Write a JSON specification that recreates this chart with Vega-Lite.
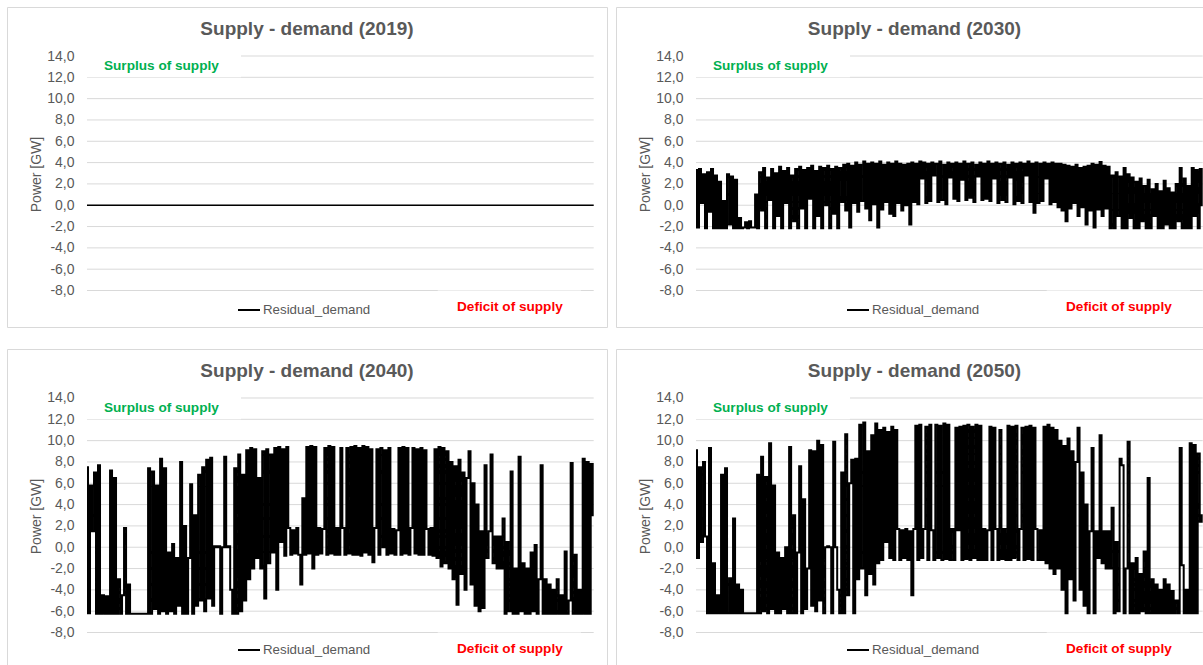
{
"$schema": "https://vega.github.io/schema/vega-lite/v6.json",
"background": "white",
"padding": {"left": 6, "top": 6, "right": 0, "bottom": 0},
"datasets": {
"grid": [{"g":-8},{"g":-6},{"g":-4},{"g":-2},{"g":0},{"g":2},{"g":4},{"g":6},{"g":8},{"g":10},{"g":12},{"g":14}],
"single": [{"n":1}],
"base": [{"h":0,"r2019":0},{"h":8760,"r2019":0}],
"res": [
{"h":0,"r2030":3.3,"r2040":7.5,"r2050":9.1},
{"h":35,"r2030":-2.1,"r2040":-6.2,"r2050":-1.0},
{"h":69,"r2030":3.4,"r2040":5.8,"r2050":7.5},
{"h":104,"r2030":0.2,"r2040":1.5,"r2050":0.5},
{"h":139,"r2030":2.9,"r2040":7.0,"r2050":8.0},
{"h":173,"r2030":-2.15,"r2040":-6.25,"r2050":1.0},
{"h":208,"r2030":3.1,"r2040":7.7,"r2050":-6.2},
{"h":242,"r2030":-0.6,"r2040":-6.25,"r2050":9.3},
{"h":277,"r2030":3.4,"r2040":-4.5,"r2050":-6.2},
{"h":312,"r2030":-2.15,"r2040":-6.25,"r2050":-1.5},
{"h":346,"r2030":2.8,"r2040":-4.6,"r2050":-6.2},
{"h":381,"r2030":-2.15,"r2040":-6.25,"r2050":-4.5},
{"h":416,"r2030":2.2,"r2040":7.2,"r2050":-6.2},
{"h":450,"r2030":-2.15,"r2040":-6.25,"r2050":6.8},
{"h":485,"r2030":0.4,"r2040":6.5,"r2050":-6.2},
{"h":519,"r2030":-2.15,"r2040":-6.25,"r2050":7.4},
{"h":554,"r2030":2.9,"r2040":-3.0,"r2050":-6.2},
{"h":589,"r2030":-1.8,"r2040":-6.25,"r2050":-2.9},
{"h":623,"r2030":2.7,"r2040":-4.5,"r2050":-6.2},
{"h":658,"r2030":-2.15,"r2040":1.8,"r2050":2.7},
{"h":693,"r2030":2.4,"r2040":-6.25,"r2050":-6.2},
{"h":727,"r2030":-2.15,"r2040":-3.5,"r2050":-3.5},
{"h":762,"r2030":-1.2,"r2040":-6.25,"r2050":-6.2},
{"h":796,"r2030":-2.15,"r2040":-6.25,"r2050":-4.0},
{"h":831,"r2030":-2.1,"r2040":-6.25,"r2050":-6.2},
{"h":866,"r2030":-1.6,"r2040":-6.25,"r2050":-6.2},
{"h":900,"r2030":-2.15,"r2040":-6.25,"r2050":-6.2},
{"h":935,"r2030":-1.5,"r2040":-6.25,"r2050":-6.2},
{"h":970,"r2030":-2.1,"r2040":-6.25,"r2050":-6.2},
{"h":1004,"r2030":-2.1,"r2040":-6.25,"r2050":-6.2},
{"h":1039,"r2030":1.0,"r2040":-6.25,"r2050":-6.2},
{"h":1073,"r2030":-2.15,"r2040":7.4,"r2050":6.8},
{"h":1108,"r2030":3.1,"r2040":-6.25,"r2050":-6.2},
{"h":1143,"r2030":-0.5,"r2040":7.1,"r2050":8.5},
{"h":1177,"r2030":3.5,"r2040":-5.8,"r2050":-6.0},
{"h":1212,"r2030":-2.15,"r2040":5.8,"r2050":6.6},
{"h":1247,"r2030":2.6,"r2040":-6.25,"r2050":-6.2},
{"h":1281,"r2030":0.5,"r2040":8.3,"r2050":9.75},
{"h":1316,"r2030":3.4,"r2040":-6.0,"r2050":-5.8},
{"h":1350,"r2030":-2.15,"r2040":7.4,"r2050":5.8},
{"h":1385,"r2030":3.0,"r2040":-6.25,"r2050":-6.2},
{"h":1420,"r2030":-1.0,"r2040":-0.5,"r2050":-0.5},
{"h":1454,"r2030":3.6,"r2040":-6.0,"r2050":-6.2},
{"h":1489,"r2030":-2.15,"r2040":0.3,"r2050":-1.0},
{"h":1524,"r2030":3.2,"r2040":-6.25,"r2050":-5.8},
{"h":1558,"r2030":0.2,"r2040":-1.0,"r2050":0.0},
{"h":1593,"r2030":3.5,"r2040":-5.5,"r2050":-6.2},
{"h":1627,"r2030":-2.15,"r2040":8.0,"r2050":9.4},
{"h":1662,"r2030":2.8,"r2040":-6.25,"r2050":-6.2},
{"h":1697,"r2030":-1.5,"r2040":2.0,"r2050":3.0},
{"h":1731,"r2030":3.4,"r2040":-6.25,"r2050":-6.2},
{"h":1766,"r2030":-2.15,"r2040":-1.0,"r2050":-0.5},
{"h":1801,"r2030":3.6,"r2040":5.9,"r2050":7.6},
{"h":1835,"r2030":-0.3,"r2040":-6.25,"r2050":-6.2},
{"h":1870,"r2030":3.3,"r2040":3.0,"r2050":4.5},
{"h":1904,"r2030":-2.15,"r2040":-5.5,"r2050":-5.8},
{"h":1939,"r2030":3.5,"r2040":6.8,"r2050":-2.0},
{"h":1974,"r2030":0.6,"r2040":-5.0,"r2050":9.1},
{"h":2008,"r2030":3.7,"r2040":7.5,"r2050":-5.5},
{"h":2043,"r2030":-2.15,"r2040":-6.0,"r2050":9.0},
{"h":2078,"r2030":3.2,"r2040":8.2,"r2050":-6.0},
{"h":2112,"r2030":-1.0,"r2040":-4.8,"r2050":10.0},
{"h":2147,"r2030":3.6,"r2040":8.4,"r2050":-5.0},
{"h":2181,"r2030":-2.15,"r2040":-5.5,"r2050":9.6},
{"h":2216,"r2030":3.5,"r2040":0.1,"r2050":-6.2},
{"h":2251,"r2030":0.0,"r2040":0.0,"r2050":0.0},
{"h":2285,"r2030":3.7,"r2040":0.1,"r2050":0.1},
{"h":2320,"r2030":-2.15,"r2040":-6.25,"r2050":0.0},
{"h":2355,"r2030":3.4,"r2040":0.0,"r2050":-6.2},
{"h":2389,"r2030":-0.8,"r2040":8.5,"r2050":9.9},
{"h":2424,"r2030":3.6,"r2040":0.0,"r2050":0.0},
{"h":2458,"r2030":-2.15,"r2040":0.1,"r2050":-4.0},
{"h":2493,"r2030":3.5,"r2040":-4.0,"r2050":-6.2},
{"h":2528,"r2030":0.3,"r2040":-6.25,"r2050":7.0},
{"h":2562,"r2030":3.8,"r2040":7.4,"r2050":-6.2},
{"h":2597,"r2030":-0.5,"r2040":-6.25,"r2050":10.6},
{"h":2632,"r2030":3.9,"r2040":8.7,"r2050":-4.5},
{"h":2666,"r2030":-2.1,"r2040":-6.0,"r2050":6.0},
{"h":2701,"r2030":3.7,"r2040":6.8,"r2050":8.2},
{"h":2735,"r2030":0.2,"r2040":-5.0,"r2050":-6.2},
{"h":2770,"r2030":4.0,"r2040":9.1,"r2050":8.3},
{"h":2805,"r2030":-0.6,"r2040":-3.0,"r2050":-3.0},
{"h":2839,"r2030":3.8,"r2040":9.3,"r2050":11.5},
{"h":2874,"r2030":0.4,"r2040":-2.0,"r2050":-2.0},
{"h":2909,"r2030":4.1,"r2040":9.2,"r2050":11.7},
{"h":2943,"r2030":-0.3,"r2040":-1.0,"r2050":-4.5},
{"h":2978,"r2030":3.9,"r2040":6.5,"r2050":9.0},
{"h":3012,"r2030":-1.4,"r2040":-2.0,"r2050":-2.5},
{"h":3047,"r2030":4.0,"r2040":9.0,"r2050":10.5},
{"h":3082,"r2030":0.1,"r2040":-4.8,"r2050":-3.5},
{"h":3116,"r2030":3.9,"r2040":9.2,"r2050":11.6},
{"h":3151,"r2030":-2.1,"r2040":-1.5,"r2050":-1.5},
{"h":3186,"r2030":4.1,"r2040":8.7,"r2050":11.0},
{"h":3220,"r2030":-0.4,"r2040":-0.5,"r2050":-1.2},
{"h":3255,"r2030":3.8,"r2040":9.3,"r2050":11.2},
{"h":3289,"r2030":0.3,"r2040":-4.0,"r2050":0.5},
{"h":3324,"r2030":4.0,"r2040":9.4,"r2050":10.8},
{"h":3359,"r2030":-0.8,"r2040":0.5,"r2050":-1.0},
{"h":3393,"r2030":3.9,"r2040":9.2,"r2050":11.3},
{"h":3428,"r2030":-1.0,"r2040":-0.8,"r2050":-1.2},
{"h":3463,"r2030":4.1,"r2040":9.4,"r2050":11.0},
{"h":3497,"r2030":0.2,"r2040":1.8,"r2050":1.7},
{"h":3532,"r2030":3.9,"r2040":-0.7,"r2050":-1.2},
{"h":3566,"r2030":-0.5,"r2040":1.6,"r2050":1.6},
{"h":3601,"r2030":3.8,"r2040":-0.6,"r2050":-1.0},
{"h":3636,"r2030":0.0,"r2040":1.8,"r2050":1.7},
{"h":3670,"r2030":3.9,"r2040":-0.7,"r2050":-1.2},
{"h":3705,"r2030":-1.8,"r2040":-3.5,"r2050":1.5},
{"h":3740,"r2030":4.0,"r2040":4.6,"r2050":-4.5},
{"h":3774,"r2030":0.3,"r2040":-0.7,"r2050":1.7},
{"h":3809,"r2030":3.9,"r2040":9.4,"r2050":11.4},
{"h":3843,"r2030":0.1,"r2040":-0.6,"r2050":-1.2},
{"h":3878,"r2030":4.1,"r2040":9.5,"r2050":11.5},
{"h":3913,"r2030":2.5,"r2040":-2.0,"r2050":-1.0},
{"h":3947,"r2030":4.0,"r2040":9.4,"r2050":1.7},
{"h":3982,"r2030":0.2,"r2040":-0.7,"r2050":11.3},
{"h":4017,"r2030":3.9,"r2040":1.8,"r2050":-1.2},
{"h":4051,"r2030":0.4,"r2040":-0.6,"r2050":11.5},
{"h":4086,"r2030":4.0,"r2040":1.7,"r2050":1.6},
{"h":4120,"r2030":2.8,"r2040":9.3,"r2050":-1.2},
{"h":4155,"r2030":3.9,"r2040":-0.7,"r2050":11.5},
{"h":4190,"r2030":0.3,"r2040":9.5,"r2050":-1.0},
{"h":4224,"r2030":4.1,"r2040":-0.6,"r2050":11.4},
{"h":4259,"r2030":0.5,"r2040":9.4,"r2050":-1.2},
{"h":4294,"r2030":3.8,"r2040":-0.7,"r2050":11.6},
{"h":4328,"r2030":0.1,"r2040":1.8,"r2050":-1.1},
{"h":4363,"r2030":4.0,"r2040":-0.7,"r2050":11.5},
{"h":4397,"r2030":2.6,"r2040":9.3,"r2050":-1.2},
{"h":4432,"r2030":3.9,"r2040":1.8,"r2050":1.7},
{"h":4467,"r2030":0.6,"r2040":-0.7,"r2050":-1.2},
{"h":4501,"r2030":4.0,"r2040":9.3,"r2050":11.2},
{"h":4536,"r2030":0.4,"r2040":-0.6,"r2050":1.6},
{"h":4571,"r2030":3.9,"r2040":9.4,"r2050":11.3},
{"h":4605,"r2030":2.4,"r2040":-0.7,"r2050":-1.2},
{"h":4640,"r2030":4.1,"r2040":9.5,"r2050":11.4},
{"h":4674,"r2030":0.5,"r2040":-0.7,"r2050":-1.1},
{"h":4709,"r2030":3.9,"r2040":9.3,"r2050":11.5},
{"h":4744,"r2030":0.7,"r2040":-0.8,"r2050":-1.2},
{"h":4778,"r2030":4.0,"r2040":9.5,"r2050":11.3},
{"h":4813,"r2030":0.3,"r2040":-0.5,"r2050":-1.0},
{"h":4848,"r2030":3.8,"r2040":9.4,"r2050":11.5},
{"h":4882,"r2030":2.7,"r2040":-0.7,"r2050":-1.2},
{"h":4917,"r2030":4.0,"r2040":9.2,"r2050":11.4},
{"h":4951,"r2030":0.5,"r2040":-1.4,"r2050":-1.2},
{"h":4986,"r2030":3.9,"r2040":1.8,"r2050":1.7},
{"h":5021,"r2030":0.6,"r2040":9.2,"r2050":-1.2},
{"h":5055,"r2030":4.1,"r2040":-0.7,"r2050":1.6},
{"h":5090,"r2030":0.4,"r2040":9.3,"r2050":11.3},
{"h":5125,"r2030":3.9,"r2040":0.0,"r2050":-1.2},
{"h":5159,"r2030":2.5,"r2040":9.1,"r2050":11.2},
{"h":5194,"r2030":4.0,"r2040":-0.7,"r2050":1.7},
{"h":5228,"r2030":0.2,"r2040":9.3,"r2050":-1.2},
{"h":5263,"r2030":3.9,"r2040":-0.6,"r2050":11.0},
{"h":5298,"r2030":0.5,"r2040":1.7,"r2050":-1.1},
{"h":5332,"r2030":4.0,"r2040":-0.7,"r2050":1.7},
{"h":5367,"r2030":0.3,"r2040":1.6,"r2050":-1.2},
{"h":5402,"r2030":3.8,"r2040":9.3,"r2050":11.4},
{"h":5436,"r2030":2.6,"r2040":-0.7,"r2050":-1.2},
{"h":5471,"r2030":4.0,"r2040":9.4,"r2050":11.3},
{"h":5505,"r2030":0.1,"r2040":-0.6,"r2050":-1.0},
{"h":5540,"r2030":3.9,"r2040":9.3,"r2050":11.4},
{"h":5575,"r2030":0.4,"r2040":-0.7,"r2050":-1.2},
{"h":5609,"r2030":4.0,"r2040":1.8,"r2050":1.7},
{"h":5644,"r2030":0.2,"r2040":9.3,"r2050":11.2},
{"h":5679,"r2030":3.9,"r2040":-0.6,"r2050":-1.2},
{"h":5713,"r2030":2.8,"r2040":9.2,"r2050":11.3},
{"h":5748,"r2030":4.1,"r2040":-0.7,"r2050":-1.1},
{"h":5782,"r2030":0.3,"r2040":9.3,"r2050":11.4},
{"h":5817,"r2030":3.9,"r2040":-0.7,"r2050":-1.2},
{"h":5852,"r2030":-0.7,"r2040":9.1,"r2050":11.2},
{"h":5886,"r2030":4.0,"r2040":1.7,"r2050":1.7},
{"h":5921,"r2030":0.2,"r2040":-0.7,"r2050":-1.2},
{"h":5956,"r2030":3.9,"r2040":1.8,"r2050":1.6},
{"h":5990,"r2030":0.4,"r2040":-0.8,"r2050":-1.2},
{"h":6025,"r2030":4.0,"r2040":9.2,"r2050":11.3},
{"h":6059,"r2030":2.5,"r2040":-1.0,"r2050":-1.5},
{"h":6094,"r2030":3.9,"r2040":9.4,"r2050":11.5},
{"h":6129,"r2030":0.1,"r2040":-1.8,"r2050":-2.0},
{"h":6163,"r2030":4.0,"r2040":9.3,"r2050":11.2},
{"h":6198,"r2030":0.3,"r2040":-1.5,"r2050":-2.5},
{"h":6233,"r2030":3.9,"r2040":9.0,"r2050":11.0},
{"h":6267,"r2030":-0.2,"r2040":-2.0,"r2050":-2.0},
{"h":6302,"r2030":3.9,"r2040":8.0,"r2050":10.0},
{"h":6336,"r2030":-0.5,"r2040":-3.0,"r2050":-4.0},
{"h":6371,"r2030":3.8,"r2040":7.6,"r2050":9.5},
{"h":6406,"r2030":-1.5,"r2040":-5.4,"r2050":-6.2},
{"h":6440,"r2030":3.7,"r2040":8.2,"r2050":10.2},
{"h":6475,"r2030":-0.3,"r2040":-2.5,"r2050":-3.0},
{"h":6510,"r2030":3.6,"r2040":7.0,"r2050":9.0},
{"h":6544,"r2030":0.2,"r2040":-4.0,"r2050":-5.0},
{"h":6579,"r2030":3.8,"r2040":6.5,"r2050":8.0},
{"h":6613,"r2030":-1.0,"r2040":9.0,"r2050":11.2},
{"h":6648,"r2030":3.5,"r2040":-3.5,"r2050":-4.0},
{"h":6683,"r2030":-0.2,"r2040":6.0,"r2050":7.0},
{"h":6717,"r2030":3.6,"r2040":-5.5,"r2050":-5.5},
{"h":6752,"r2030":-1.8,"r2040":4.0,"r2050":4.0},
{"h":6787,"r2030":3.7,"r2040":-6.0,"r2050":-6.2},
{"h":6821,"r2030":-0.5,"r2040":1.5,"r2050":1.5},
{"h":6856,"r2030":3.9,"r2040":-5.7,"r2050":9.3},
{"h":6890,"r2030":-2.1,"r2040":7.7,"r2050":-6.2},
{"h":6925,"r2030":3.8,"r2040":-1.0,"r2050":1.5},
{"h":6960,"r2030":-0.4,"r2040":1.5,"r2050":-1.0},
{"h":6994,"r2030":4.05,"r2040":8.7,"r2050":10.5},
{"h":7029,"r2030":-1.0,"r2040":-1.5,"r2050":-1.5},
{"h":7064,"r2030":3.7,"r2040":1.0,"r2050":1.5},
{"h":7098,"r2030":-0.3,"r2040":-2.0,"r2050":-2.0},
{"h":7133,"r2030":3.6,"r2040":1.0,"r2050":1.5},
{"h":7167,"r2030":-2.15,"r2040":-2.0,"r2050":-2.0},
{"h":7202,"r2030":2.8,"r2040":2.7,"r2050":3.7},
{"h":7237,"r2030":-2.15,"r2040":-6.25,"r2050":-6.2},
{"h":7271,"r2030":3.1,"r2040":0.5,"r2050":0.5},
{"h":7306,"r2030":-1.0,"r2040":-6.0,"r2050":-6.0},
{"h":7341,"r2030":2.7,"r2040":7.1,"r2050":8.3},
{"h":7375,"r2030":-2.15,"r2040":-6.25,"r2050":7.7},
{"h":7410,"r2030":3.5,"r2040":-2.0,"r2050":-6.2},
{"h":7444,"r2030":-2.15,"r2040":-6.25,"r2050":-2.0},
{"h":7479,"r2030":2.9,"r2040":8.5,"r2050":9.9},
{"h":7514,"r2030":-1.2,"r2040":-6.0,"r2050":-6.2},
{"h":7548,"r2030":2.6,"r2040":-1.5,"r2050":-1.5},
{"h":7583,"r2030":-2.15,"r2040":-6.25,"r2050":-6.2},
{"h":7618,"r2030":2.2,"r2040":-2.0,"r2050":-1.0},
{"h":7652,"r2030":-2.15,"r2040":-6.25,"r2050":-6.2},
{"h":7687,"r2030":2.5,"r2040":-0.5,"r2050":-2.5},
{"h":7721,"r2030":-1.5,"r2040":-6.0,"r2050":-6.0},
{"h":7756,"r2030":1.8,"r2040":0.2,"r2050":-0.4},
{"h":7791,"r2030":-2.15,"r2040":-6.25,"r2050":-6.2},
{"h":7825,"r2030":2.4,"r2040":-3.0,"r2050":6.5},
{"h":7860,"r2030":-2.15,"r2040":7.7,"r2050":-6.2},
{"h":7895,"r2030":1.5,"r2040":-6.25,"r2050":-3.0},
{"h":7929,"r2030":-1.0,"r2040":-3.0,"r2050":-6.2},
{"h":7964,"r2030":2.0,"r2040":-6.25,"r2050":-3.5},
{"h":7998,"r2030":-2.15,"r2040":-3.5,"r2050":-6.2},
{"h":8033,"r2030":1.3,"r2040":-6.25,"r2050":-4.0},
{"h":8068,"r2030":-2.15,"r2040":-4.0,"r2050":-6.2},
{"h":8102,"r2030":2.3,"r2040":-6.25,"r2050":-3.0},
{"h":8137,"r2030":-1.8,"r2040":-3.0,"r2050":-6.2},
{"h":8172,"r2030":1.6,"r2040":-6.25,"r2050":-3.5},
{"h":8206,"r2030":-2.15,"r2040":-4.5,"r2050":-6.2},
{"h":8241,"r2030":1.2,"r2040":-6.25,"r2050":-4.1},
{"h":8275,"r2030":-2.15,"r2040":-0.4,"r2050":-6.2},
{"h":8310,"r2030":2.0,"r2040":-6.25,"r2050":-5.0},
{"h":8345,"r2030":-1.5,"r2040":-5.0,"r2050":-6.2},
{"h":8379,"r2030":3.5,"r2040":7.9,"r2050":9.3},
{"h":8414,"r2030":-2.15,"r2040":-6.25,"r2050":-1.7},
{"h":8449,"r2030":2.5,"r2040":-0.7,"r2050":-6.2},
{"h":8483,"r2030":-2.15,"r2040":-6.25,"r2050":-4.0},
{"h":8518,"r2030":1.8,"r2040":-4.0,"r2050":-6.2},
{"h":8552,"r2030":-2.15,"r2040":-6.25,"r2050":9.75},
{"h":8587,"r2030":3.5,"r2040":8.3,"r2050":-6.2},
{"h":8622,"r2030":-1.0,"r2040":-6.25,"r2050":9.6},
{"h":8656,"r2030":3.3,"r2040":8.0,"r2050":-6.2},
{"h":8691,"r2030":-2.15,"r2040":-6.25,"r2050":8.8},
{"h":8726,"r2030":3.4,"r2040":7.8,"r2050":2.4},
{"h":8760,"r2030":0.0,"r2040":3.0,"r2050":3.0}
]
},
"columns": 2,
"spacing": {"row": 22, "column": 9},
"bounds": "flush",
"resolve": {"scale": {"color": "independent"}, "legend": {"color": "independent"}},
"concat": [
{"width": 600, "height": 320, "title": {"text": "Supply - demand (2019)"},
 "layer": [
  {"data": {"name": "grid"}, "mark": {"type": "rule", "color": "#d9d9d9", "strokeWidth": 1},
   "encoding": {"x": {"datum": 0, "type": "quantitative", "scale": {"domain": [-1383, 8990], "nice": false, "zero": false}, "axis": null}, "x2": {"datum": 8760},
    "y": {"field": "g", "type": "quantitative", "scale": {"domain": [-11.424, 18.597], "nice": false, "zero": false}}}},
  {"data": {"name": "single"}, "mark": {"type": "rect", "color": "white"},
   "encoding": {"x": {"datum": 0, "type": "quantitative", "scale": {"domain": [-1383, 8990], "nice": false, "zero": false}, "axis": null}, "x2": {"datum": 2662},
    "y": {"datum": 12, "type": "quantitative", "scale": {"domain": [-11.424, 18.597], "nice": false, "zero": false}}, "y2": {"datum": 14.6}}},
  {"data": {"name": "single"}, "mark": {"type": "rect", "color": "white"},
   "encoding": {"x": {"datum": 6063, "type": "quantitative", "scale": {"domain": [-1383, 8990], "nice": false, "zero": false}, "axis": null}, "x2": {"datum": 8540},
    "y": {"datum": -8, "type": "quantitative", "scale": {"domain": [-11.424, 18.597], "nice": false, "zero": false}}, "y2": {"datum": -10.8}}},
  {"data": {"name": "base"}, "mark": {"type": "line", "strokeWidth": 1.5, "strokeJoin": "round"},
   "encoding": {"x": {"field": "h", "type": "quantitative", "scale": {"domain": [-1383, 8990], "nice": false, "zero": false}, "axis": null},
    "y": {"field": "r2019", "type": "quantitative", "scale": {"domain": [-11.424, 18.597], "nice": false, "zero": false},
     "axis": {"title": "Power [GW]", "values": [-8,-6,-4,-2,0,2,4,6,8,10,12,14], "tickCount": 12, "labelOverlap": false, "labelExpr": "(datum.value < 0 ? '-' : '') + replace(format(abs(datum.value), '.1f'), '.', ',')", "offset": -69, "titleY": 167}},
    "color": {"datum": "Residual_demand", "type": "nominal", "scale": {"range": ["#000000"]}, "legend": {"orient": "none", "legendX": 230, "legendY": 291, "title": null}}}},
  {"data": {"name": "single"}, "mark": {"type": "text", "text": "Surplus of supply", "align": "left", "baseline": "alphabetic", "font": "Liberation Sans", "fontSize": 13.6, "fontWeight": "bold", "color": "#00B050"},
   "encoding": {"x": {"datum": 294, "type": "quantitative", "scale": {"domain": [-1383, 8990], "nice": false, "zero": false}, "axis": null},
    "y": {"datum": 12.7, "type": "quantitative", "scale": {"domain": [-11.424, 18.597], "nice": false, "zero": false}}}},
  {"data": {"name": "single"}, "mark": {"type": "text", "text": "Deficit of supply", "align": "left", "baseline": "alphabetic", "font": "Liberation Sans", "fontSize": 13.6, "fontWeight": "bold", "color": "#FF0000"},
   "encoding": {"x": {"datum": 6397, "type": "quantitative", "scale": {"domain": [-1383, 8990], "nice": false, "zero": false}, "axis": null},
    "y": {"datum": -9.95, "type": "quantitative", "scale": {"domain": [-11.424, 18.597], "nice": false, "zero": false}}}}
 ]},
{"width": 587, "height": 320, "title": {"text": "Supply - demand (2030)", "dx": 5},
 "layer": [
  {"data": {"name": "grid"}, "mark": {"type": "rule", "color": "#d9d9d9", "strokeWidth": 1},
   "encoding": {"x": {"datum": 0, "type": "quantitative", "scale": {"domain": [-1383, 8765], "nice": false, "zero": false}, "axis": null}, "x2": {"datum": 8760},
    "y": {"field": "g", "type": "quantitative", "scale": {"domain": [-11.424, 18.597], "nice": false, "zero": false}}}},
  {"data": {"name": "single"}, "mark": {"type": "rect", "color": "white"},
   "encoding": {"x": {"datum": 0, "type": "quantitative", "scale": {"domain": [-1383, 8765], "nice": false, "zero": false}, "axis": null}, "x2": {"datum": 2662},
    "y": {"datum": 12, "type": "quantitative", "scale": {"domain": [-11.424, 18.597], "nice": false, "zero": false}}, "y2": {"datum": 14.6}}},
  {"data": {"name": "single"}, "mark": {"type": "rect", "color": "white"},
   "encoding": {"x": {"datum": 6063, "type": "quantitative", "scale": {"domain": [-1383, 8765], "nice": false, "zero": false}, "axis": null}, "x2": {"datum": 8540},
    "y": {"datum": -8, "type": "quantitative", "scale": {"domain": [-11.424, 18.597], "nice": false, "zero": false}}, "y2": {"datum": -10.8}}},
  {"data": {"name": "res"}, "mark": {"type": "line", "strokeWidth": 2, "interpolate": "step"},
   "encoding": {"x": {"field": "h", "type": "quantitative", "scale": {"domain": [-1383, 8765], "nice": false, "zero": false}, "axis": null},
    "y": {"field": "r2030", "type": "quantitative", "scale": {"domain": [-11.424, 18.597], "nice": false, "zero": false},
     "axis": {"title": "Power [GW]", "values": [-8,-6,-4,-2,0,2,4,6,8,10,12,14], "tickCount": 12, "labelOverlap": false, "labelExpr": "(datum.value < 0 ? '-' : '') + replace(format(abs(datum.value), '.1f'), '.', ',')", "offset": -69, "titleY": 167}},
    "color": {"datum": "Residual_demand", "type": "nominal", "scale": {"range": ["#000000"]}, "legend": {"orient": "none", "legendX": 230, "legendY": 291, "title": null}}}},
  {"data": {"name": "single"}, "mark": {"type": "text", "text": "Surplus of supply", "align": "left", "baseline": "alphabetic", "font": "Liberation Sans", "fontSize": 13.6, "fontWeight": "bold", "color": "#00B050"},
   "encoding": {"x": {"datum": 294, "type": "quantitative", "scale": {"domain": [-1383, 8765], "nice": false, "zero": false}, "axis": null},
    "y": {"datum": 12.7, "type": "quantitative", "scale": {"domain": [-11.424, 18.597], "nice": false, "zero": false}}}},
  {"data": {"name": "single"}, "mark": {"type": "text", "text": "Deficit of supply", "align": "left", "baseline": "alphabetic", "font": "Liberation Sans", "fontSize": 13.6, "fontWeight": "bold", "color": "#FF0000"},
   "encoding": {"x": {"datum": 6397, "type": "quantitative", "scale": {"domain": [-1383, 8765], "nice": false, "zero": false}, "axis": null},
    "y": {"datum": -9.95, "type": "quantitative", "scale": {"domain": [-11.424, 18.597], "nice": false, "zero": false}}}}
 ]},
{"width": 600, "height": 316, "title": {"text": "Supply - demand (2040)"},
 "layer": [
  {"data": {"name": "grid"}, "mark": {"type": "rule", "color": "#d9d9d9", "strokeWidth": 1},
   "encoding": {"x": {"datum": 0, "type": "quantitative", "scale": {"domain": [-1383, 8990], "nice": false, "zero": false}, "axis": null}, "x2": {"datum": 8760},
    "y": {"field": "g", "type": "quantitative", "scale": {"domain": [-11.049, 18.597], "nice": false, "zero": false}}}},
  {"data": {"name": "single"}, "mark": {"type": "rect", "color": "white"},
   "encoding": {"x": {"datum": 0, "type": "quantitative", "scale": {"domain": [-1383, 8990], "nice": false, "zero": false}, "axis": null}, "x2": {"datum": 2662},
    "y": {"datum": 12, "type": "quantitative", "scale": {"domain": [-11.049, 18.597], "nice": false, "zero": false}}, "y2": {"datum": 14.6}}},
  {"data": {"name": "single"}, "mark": {"type": "rect", "color": "white"},
   "encoding": {"x": {"datum": 6063, "type": "quantitative", "scale": {"domain": [-1383, 8990], "nice": false, "zero": false}, "axis": null}, "x2": {"datum": 8540},
    "y": {"datum": -8, "type": "quantitative", "scale": {"domain": [-11.049, 18.597], "nice": false, "zero": false}}, "y2": {"datum": -10.8}}},
  {"data": {"name": "res"}, "mark": {"type": "line", "strokeWidth": 2, "interpolate": "step"},
   "encoding": {"x": {"field": "h", "type": "quantitative", "scale": {"domain": [-1383, 8990], "nice": false, "zero": false}, "axis": null},
    "y": {"field": "r2040", "type": "quantitative", "scale": {"domain": [-11.049, 18.597], "nice": false, "zero": false},
     "axis": {"title": "Power [GW]", "values": [-8,-6,-4,-2,0,2,4,6,8,10,12,14], "tickCount": 12, "labelOverlap": false, "labelExpr": "(datum.value < 0 ? '-' : '') + replace(format(abs(datum.value), '.1f'), '.', ',')", "offset": -69, "titleY": 167}},
    "color": {"datum": "Residual_demand", "type": "nominal", "scale": {"range": ["#000000"]}, "legend": {"orient": "none", "legendX": 230, "legendY": 289, "title": null}}}},
  {"data": {"name": "single"}, "mark": {"type": "text", "text": "Surplus of supply", "align": "left", "baseline": "alphabetic", "font": "Liberation Sans", "fontSize": 13.6, "fontWeight": "bold", "color": "#00B050"},
   "encoding": {"x": {"datum": 294, "type": "quantitative", "scale": {"domain": [-1383, 8990], "nice": false, "zero": false}, "axis": null},
    "y": {"datum": 12.7, "type": "quantitative", "scale": {"domain": [-11.049, 18.597], "nice": false, "zero": false}}}},
  {"data": {"name": "single"}, "mark": {"type": "text", "text": "Deficit of supply", "align": "left", "baseline": "alphabetic", "font": "Liberation Sans", "fontSize": 13.6, "fontWeight": "bold", "color": "#FF0000"},
   "encoding": {"x": {"datum": 6397, "type": "quantitative", "scale": {"domain": [-1383, 8990], "nice": false, "zero": false}, "axis": null},
    "y": {"datum": -9.95, "type": "quantitative", "scale": {"domain": [-11.049, 18.597], "nice": false, "zero": false}}}}
 ]},
{"width": 587, "height": 316, "title": {"text": "Supply - demand (2050)", "dx": 5},
 "layer": [
  {"data": {"name": "grid"}, "mark": {"type": "rule", "color": "#d9d9d9", "strokeWidth": 1},
   "encoding": {"x": {"datum": 0, "type": "quantitative", "scale": {"domain": [-1383, 8765], "nice": false, "zero": false}, "axis": null}, "x2": {"datum": 8760},
    "y": {"field": "g", "type": "quantitative", "scale": {"domain": [-11.049, 18.597], "nice": false, "zero": false}}}},
  {"data": {"name": "single"}, "mark": {"type": "rect", "color": "white"},
   "encoding": {"x": {"datum": 0, "type": "quantitative", "scale": {"domain": [-1383, 8765], "nice": false, "zero": false}, "axis": null}, "x2": {"datum": 2662},
    "y": {"datum": 12, "type": "quantitative", "scale": {"domain": [-11.049, 18.597], "nice": false, "zero": false}}, "y2": {"datum": 14.6}}},
  {"data": {"name": "single"}, "mark": {"type": "rect", "color": "white"},
   "encoding": {"x": {"datum": 6063, "type": "quantitative", "scale": {"domain": [-1383, 8765], "nice": false, "zero": false}, "axis": null}, "x2": {"datum": 8540},
    "y": {"datum": -8, "type": "quantitative", "scale": {"domain": [-11.049, 18.597], "nice": false, "zero": false}}, "y2": {"datum": -10.8}}},
  {"data": {"name": "res"}, "mark": {"type": "line", "strokeWidth": 2, "interpolate": "step"},
   "encoding": {"x": {"field": "h", "type": "quantitative", "scale": {"domain": [-1383, 8765], "nice": false, "zero": false}, "axis": null},
    "y": {"field": "r2050", "type": "quantitative", "scale": {"domain": [-11.049, 18.597], "nice": false, "zero": false},
     "axis": {"title": "Power [GW]", "values": [-8,-6,-4,-2,0,2,4,6,8,10,12,14], "tickCount": 12, "labelOverlap": false, "labelExpr": "(datum.value < 0 ? '-' : '') + replace(format(abs(datum.value), '.1f'), '.', ',')", "offset": -69, "titleY": 167}},
    "color": {"datum": "Residual_demand", "type": "nominal", "scale": {"range": ["#000000"]}, "legend": {"orient": "none", "legendX": 230, "legendY": 289, "title": null}}}},
  {"data": {"name": "single"}, "mark": {"type": "text", "text": "Surplus of supply", "align": "left", "baseline": "alphabetic", "font": "Liberation Sans", "fontSize": 13.6, "fontWeight": "bold", "color": "#00B050"},
   "encoding": {"x": {"datum": 294, "type": "quantitative", "scale": {"domain": [-1383, 8765], "nice": false, "zero": false}, "axis": null},
    "y": {"datum": 12.7, "type": "quantitative", "scale": {"domain": [-11.049, 18.597], "nice": false, "zero": false}}}},
  {"data": {"name": "single"}, "mark": {"type": "text", "text": "Deficit of supply", "align": "left", "baseline": "alphabetic", "font": "Liberation Sans", "fontSize": 13.6, "fontWeight": "bold", "color": "#FF0000"},
   "encoding": {"x": {"datum": 6397, "type": "quantitative", "scale": {"domain": [-1383, 8765], "nice": false, "zero": false}, "axis": null},
    "y": {"datum": -9.95, "type": "quantitative", "scale": {"domain": [-11.049, 18.597], "nice": false, "zero": false}}}}
 ]}
],
"config": {
 "view": {"stroke": "#d9d9d9", "strokeWidth": 1},
 "font": "Liberation Sans",
 "title": {"font": "Liberation Sans", "fontSize": 19, "fontWeight": "bold", "color": "#595959", "offset": -32, "baseline": "alphabetic", "anchor": "middle", "frame": "group"},
 "axis": {"labelFont": "Liberation Sans", "labelFontSize": 14, "labelColor": "#595959", "labelOverlap": false, "titleFont": "Liberation Sans", "titleFontSize": 14, "titleFontWeight": "normal", "titleColor": "#595959", "domain": false, "ticks": false, "tickSize": 0, "grid": false, "labelPadding": 2, "titlePadding": 3},
 "legend": {"symbolType": "stroke", "symbolSize": 484, "symbolStrokeWidth": 2, "labelFont": "Liberation Sans", "labelFontSize": 13.3, "labelColor": "#595959", "labelOffset": 2, "padding": 0}
}
}
